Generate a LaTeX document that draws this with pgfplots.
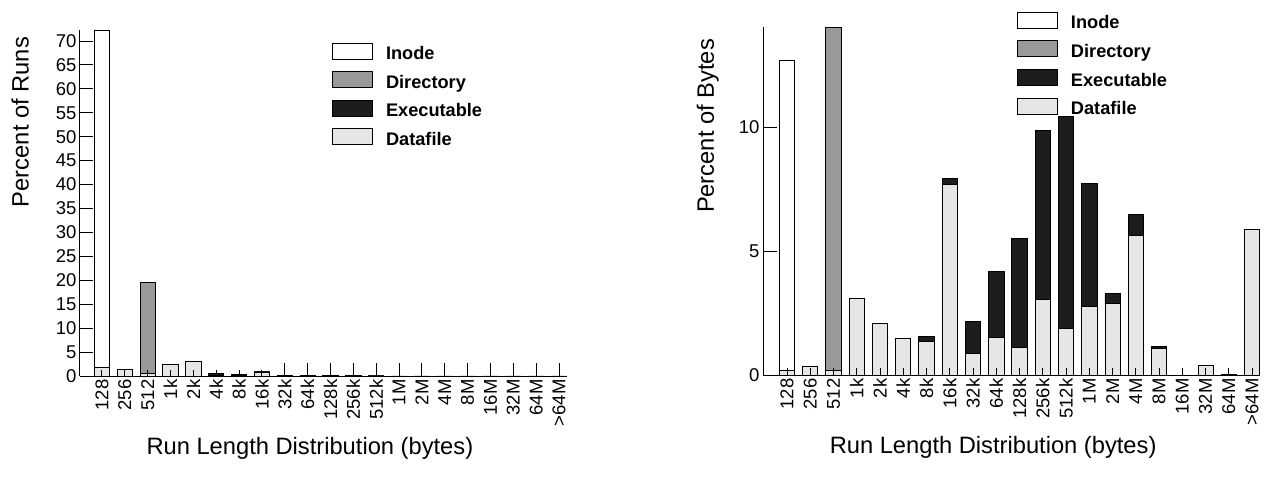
\documentclass[border=0pt]{standalone}
\usepackage{fontspec}
\setmainfont{Liberation Sans}
\usepackage{pgfplots}
\pgfplotsset{compat=1.18}
\usepackage{pgfplotstable}
\definecolor{dirc}{HTML}{999999}
\definecolor{execc}{HTML}{1C1C1C}
\definecolor{datac}{HTML}{E6E6E6}

\pgfplotstableread{
x data exec dir inode
0 1.7 0 0 70.6
1 1.3 0 0 0
2 0.5 0 19.1 0
3 2.35 0 0 0
4 3.05 0 0 0
5 0.2 0.3 0 0
6 0.1 0.15 0 0
7 0.85 0.05 0 0
8 0.05 0.15 0 0
9 0.05 0.12 0 0
10 0.05 0.08 0 0
11 0.03 0.03 0 0
12 0.02 0.02 0 0
13 0.01 0.01 0 0
14 0.01 0.01 0 0
15 0.01 0.01 0 0
16 0.005 0.005 0 0
17 0.005 0.005 0 0
18 0.005 0.005 0 0
19 0.005 0.005 0 0
20 0.005 0.005 0 0
}\runs

\pgfplotstableread{
x data exec dir inode
0 0.2 0 0 12.5
1 0.34 0 0 0
2 0.2 0 13.85 0
3 3.1 0 0 0
4 2.09 0 0 0
5 1.47 0 0 0
6 1.37 0.18 0 0
7 7.71 0.23 0 0
8 0.87 1.31 0 0
9 1.51 2.69 0 0
10 1.12 4.39 0 0
11 3.04 6.85 0 0
12 1.87 8.57 0 0
13 2.76 4.97 0 0
14 2.88 0.42 0 0
15 5.63 0.86 0 0
16 1.06 0.10 0 0
17 0 0 0 0
18 0.39 0 0 0
19 0.03 0 0 0
20 5.87 0 0 0
}\bytes

\pgfplotsset{
 common/.style={
  scale only axis, anchor=south west, axis on top,
  ybar stacked, bar width=15.3pt,
  axis x line*=bottom, axis y line*=left,
  axis line style={-, line width=1pt},
  tick align=inside, tick style={black, line width=0.9pt},
  ymin=0,
  /pgf/number format/assume math mode=true,
  tick label style={font=\fontsize{18.5}{18.5}\selectfont},
  x tick label style={rotate=90, anchor=east},
  label style={font=\fontsize{23.7}{28}\selectfont},
  xlabel={Run Length Distribution (bytes)},
  legend cell align=left, reverse legend,
  legend style={draw=none, fill=none, anchor=north west, inner sep=0pt,
    row sep=8pt, column sep=13pt,
    font=\fontsize{18.2}{18.2}\selectfont\bfseries,
    nodes={inner sep=0pt, text height=12.8pt, text depth=3.5pt}},
 },
 lg/.style={draw=black, line width=0.8pt,
   legend image code/.code={\draw[##1, line width=0.8pt] (0pt,-4pt) rectangle (40pt,12pt);}},
}

\begin{document}
\begin{tikzpicture}
\path[use as bounding box] (0,0) rectangle (1278pt,477pt);
\begin{axis}[common,
  at={(80pt,101pt)}, width=487pt, height=346pt,
  xmin=-0.96, xmax=20.35, ymax=72.3,
  major tick length=13pt,
  ytick={0,5,...,70},
  xtick={8,...,20},
  xticklabels={32k,64k,128k,256k,512k,1M,2M,4M,8M,16M,32M,64M,{>64M}},
  extra x ticks={0,...,7},
  extra x tick labels={128,256,512,1k,2k,4k,8k,16k},
  extra x tick style={major tick length=6pt},
  ylabel={Percent of Runs},
  xlabel style={at={(axis description cs:0.472,-0.208)}, anchor=center},
  ylabel style={at={(axis description cs:-0.123,0.734)}, anchor=center},
  legend style={at={(axis description cs:0.5175,0.964)}},
]
\addplot[lg, fill=datac] table[x=x, y=data] {\runs};
\addplot[lg, fill=execc] table[x=x, y=exec] {\runs};
\addplot[lg, fill=dirc] table[x=x, y=dir] {\runs};
\addplot[lg, fill=white] table[x=x, y=inode] {\runs};
\legend{Datafile,Executable,Directory,Inode}
\end{axis}

\begin{axis}[common,
  at={(763pt,102pt)}, width=497pt, height=347.7pt,
  xmin=-1.03, xmax=20.34, ymax=14.05,
  major tick length=7pt,
  ytick=\empty,
  extra y ticks={0,5,10},
  extra y tick style={major tick length=14pt},
  xtick={0,...,20},
  xticklabels={128,256,512,1k,2k,4k,8k,16k,32k,64k,128k,256k,512k,1M,2M,4M,8M,16M,32M,64M,{>64M}},
  ylabel={Percent of Bytes},
  xlabel style={at={(axis description cs:0.463,-0.207)}, anchor=center},
  ylabel style={at={(axis description cs:-0.111,0.716)}, anchor=center},
  legend style={at={(axis description cs:0.511,1.045)}},
]
\addplot[lg, fill=datac] table[x=x, y=data] {\bytes};
\addplot[lg, fill=execc] table[x=x, y=exec] {\bytes};
\addplot[lg, fill=dirc] table[x=x, y=dir] {\bytes};
\addplot[lg, fill=white] table[x=x, y=inode] {\bytes};
\legend{Datafile,Executable,Directory,Inode}
\end{axis}
\end{tikzpicture}
\end{document}
